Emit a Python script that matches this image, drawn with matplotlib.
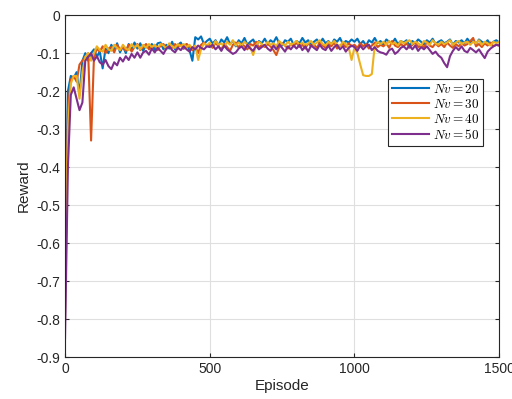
import numpy as np
import matplotlib
matplotlib.use("Agg")
import matplotlib.pyplot as plt

plt.rcParams['font.family'] = ['Liberation Sans', 'DejaVu Sans']
plt.rcParams['mathtext.fontset'] = 'cm'
plt.rcParams['axes.unicode_minus'] = False

# episodes sampled every 10
episodes = np.arange(0, 1501, 10)

nv20 = [
    -0.60, -0.20, -0.16, -0.165, -0.15, -0.21, -0.12, -0.10, -0.12, -0.10,
    -0.09, -0.11, -0.095, -0.14, -0.088, -0.10, -0.078, -0.092, -0.074, -0.098,
    -0.082, -0.10, -0.076, -0.092, -0.072, -0.088, -0.074, -0.094, -0.078, -0.086,
    -0.076, -0.092, -0.074, -0.072, -0.09, -0.078, -0.088, -0.07, -0.09, -0.078,
    -0.072, -0.088, -0.076, -0.092, -0.12, -0.058, -0.064, -0.056, -0.076, -0.068,
    -0.062, -0.075, -0.066, -0.08, -0.064, -0.072, -0.058, -0.076, -0.068, -0.082,
    -0.066, -0.074, -0.06, -0.078, -0.07, -0.064, -0.08, -0.068, -0.074, -0.062,
    -0.076, -0.066, -0.072, -0.058, -0.074, -0.08, -0.066, -0.07, -0.062, -0.078,
    -0.068, -0.074, -0.06, -0.072, -0.066, -0.08, -0.07, -0.064, -0.076, -0.062,
    -0.074, -0.068, -0.078, -0.064, -0.07, -0.06, -0.076, -0.068, -0.072, -0.064,
    -0.07, -0.062, -0.076, -0.068, -0.08, -0.066, -0.072, -0.06, -0.074, -0.068,
    -0.078, -0.064, -0.07, -0.074, -0.062, -0.076, -0.068, -0.072, -0.066, -0.08,
    -0.068, -0.074, -0.064, -0.07, -0.078, -0.066, -0.072, -0.062, -0.076, -0.07,
    -0.066, -0.074, -0.07, -0.064, -0.078, -0.068, -0.072, -0.066, -0.074, -0.062,
    -0.072, -0.068, -0.076, -0.064, -0.07, -0.074, -0.066, -0.078, -0.07, -0.066,
    -0.072,
]

nv30 = [
    -0.80, -0.25, -0.17, -0.16, -0.175, -0.13, -0.12, -0.11, -0.10, -0.33,
    -0.11, -0.088, -0.096, -0.082, -0.10, -0.088, -0.084, -0.098, -0.078, -0.092,
    -0.084, -0.094, -0.078, -0.096, -0.084, -0.076, -0.092, -0.084, -0.076, -0.09,
    -0.084, -0.078, -0.092, -0.08, -0.076, -0.09, -0.078, -0.086, -0.076, -0.084,
    -0.078, -0.088, -0.076, -0.084, -0.092, -0.082, -0.10, -0.078, -0.072, -0.082,
    -0.078, -0.086, -0.072, -0.082, -0.09, -0.076, -0.084, -0.094, -0.078, -0.072,
    -0.086, -0.074, -0.082, -0.09, -0.076, -0.08, -0.07, -0.086, -0.078, -0.084,
    -0.076, -0.082, -0.092, -0.105, -0.084, -0.074, -0.08, -0.088, -0.076, -0.082,
    -0.072, -0.084, -0.078, -0.088, -0.074, -0.082, -0.078, -0.086, -0.072, -0.08,
    -0.086, -0.076, -0.082, -0.072, -0.088, -0.08, -0.076, -0.084, -0.074, -0.082,
    -0.078, -0.086, -0.074, -0.082, -0.076, -0.088, -0.08, -0.072, -0.084, -0.078,
    -0.082, -0.074, -0.086, -0.068, -0.08, -0.084, -0.076, -0.082, -0.074, -0.086,
    -0.078, -0.072, -0.084, -0.078, -0.086, -0.07, -0.08, -0.084, -0.074, -0.082,
    -0.076, -0.084, -0.072, -0.08, -0.086, -0.076, -0.082, -0.074, -0.08, -0.076,
    -0.068, -0.06, -0.082, -0.076, -0.084, -0.074, -0.08, -0.072, -0.082, -0.078,
    -0.08,
]

nv40 = [
    -0.70, -0.30, -0.18, -0.16, -0.16, -0.22, -0.15, -0.11, -0.10, -0.12,
    -0.10, -0.082, -0.092, -0.096, -0.078, -0.09, -0.094, -0.078, -0.086, -0.092,
    -0.078, -0.088, -0.092, -0.076, -0.086, -0.078, -0.09, -0.078, -0.086, -0.076,
    -0.084, -0.078, -0.088, -0.076, -0.08, -0.088, -0.074, -0.082, -0.086, -0.076,
    -0.082, -0.076, -0.084, -0.078, -0.088, -0.08, -0.118, -0.09, -0.074, -0.08,
    -0.072, -0.082, -0.068, -0.078, -0.074, -0.084, -0.07, -0.078, -0.066, -0.08,
    -0.072, -0.08, -0.07, -0.078, -0.084, -0.105, -0.078, -0.07, -0.076, -0.082,
    -0.07, -0.078, -0.074, -0.082, -0.068, -0.076, -0.08, -0.07, -0.078, -0.074,
    -0.068, -0.078, -0.072, -0.08, -0.074, -0.068, -0.078, -0.072, -0.066, -0.076,
    -0.08, -0.07, -0.076, -0.068, -0.078, -0.082, -0.07, -0.076, -0.085, -0.118,
    -0.085, -0.10, -0.13, -0.158, -0.16, -0.16, -0.155, -0.08, -0.07, -0.076,
    -0.07, -0.078, -0.068, -0.076, -0.072, -0.08, -0.068, -0.074, -0.07, -0.066,
    -0.076, -0.07, -0.074, -0.08, -0.068, -0.072, -0.078, -0.066, -0.074, -0.078,
    -0.07, -0.076, -0.072, -0.066, -0.078, -0.072, -0.068, -0.076, -0.072, -0.07,
    -0.078, -0.07, -0.074, -0.066, -0.078, -0.07, -0.074, -0.08, -0.07, -0.074,
    -0.07,
]

nv50 = [
    -0.85, -0.40, -0.21, -0.19, -0.22, -0.25, -0.23, -0.12, -0.11, -0.10,
    -0.12, -0.108, -0.124, -0.13, -0.118, -0.134, -0.142, -0.124, -0.132, -0.112,
    -0.122, -0.108, -0.118, -0.102, -0.112, -0.098, -0.112, -0.098, -0.094, -0.104,
    -0.088, -0.098, -0.086, -0.094, -0.102, -0.088, -0.082, -0.092, -0.098, -0.086,
    -0.092, -0.082, -0.09, -0.096, -0.084, -0.09, -0.08, -0.086, -0.09, -0.082,
    -0.084, -0.078, -0.09, -0.082, -0.094, -0.08, -0.09, -0.096, -0.102, -0.098,
    -0.088, -0.082, -0.092, -0.078, -0.088, -0.094, -0.08, -0.09, -0.084, -0.078,
    -0.088, -0.094, -0.08, -0.09, -0.078, -0.086, -0.096, -0.082, -0.09, -0.08,
    -0.088, -0.078, -0.092, -0.082, -0.096, -0.08, -0.086, -0.092, -0.078, -0.088,
    -0.092, -0.08, -0.094, -0.084, -0.078, -0.09, -0.082, -0.096, -0.086, -0.08,
    -0.084, -0.094, -0.08, -0.09, -0.082, -0.078, -0.092, -0.084, -0.094, -0.098,
    -0.10, -0.104, -0.092, -0.088, -0.102, -0.096, -0.086, -0.082, -0.09, -0.08,
    -0.09, -0.08, -0.094, -0.084, -0.09, -0.082, -0.092, -0.102, -0.096, -0.106,
    -0.112, -0.126, -0.137, -0.108, -0.094, -0.084, -0.092, -0.082, -0.094, -0.098,
    -0.086, -0.092, -0.098, -0.09, -0.102, -0.113, -0.096, -0.088, -0.082, -0.078,
    -0.08,
]

series = [nv20, nv30, nv40, nv50]
labels = [r'$Nv=20$', r'$Nv=30$', r'$Nv=40$', r'$Nv=50$']
colors = ['#0072BD', '#D95319', '#EDB120', '#7E2F8E']

fig = plt.figure(figsize=(5.12, 3.99), dpi=100)
ax = fig.add_axes([0.127, 0.105, 0.848, 0.857])

for y, lab, c in zip(series, labels, colors):
    ax.plot(episodes, y, color=c, linewidth=1.5, label=lab)

ax.set_xlim(0, 1500)
ax.set_ylim(-0.9, 0)
ax.set_xticks([0, 500, 1000, 1500])
ax.set_yticks(np.arange(-0.9, 0.01, 0.1))
ax.set_yticklabels(['-0.9', '-0.8', '-0.7', '-0.6', '-0.5', '-0.4', '-0.3', '-0.2', '-0.1', '0'])
ax.grid(True, color='#dfdfdf', linewidth=0.8)
ax.set_axisbelow(True)
ax.tick_params(direction='in', top=True, right=True, labelsize=10, colors='#262626', length=3)
for s in ax.spines.values():
    s.set_color('#262626')
    s.set_linewidth(0.8)
ax.set_xlabel('Episode', fontsize=11, color='#262626', labelpad=2)
ax.set_ylabel('Reward', fontsize=11, color='#262626', labelpad=4)

leg = ax.legend(loc='upper right', bbox_to_anchor=(0.963, 0.813), fontsize=9.5,
                fancybox=False, framealpha=1, edgecolor='#262626',
                handlelength=2.8, borderpad=0.3, labelspacing=0.15, handletextpad=0.3,
                borderaxespad=0)
leg.get_frame().set_linewidth(0.8)

fig.savefig('out.png', dpi=100)
